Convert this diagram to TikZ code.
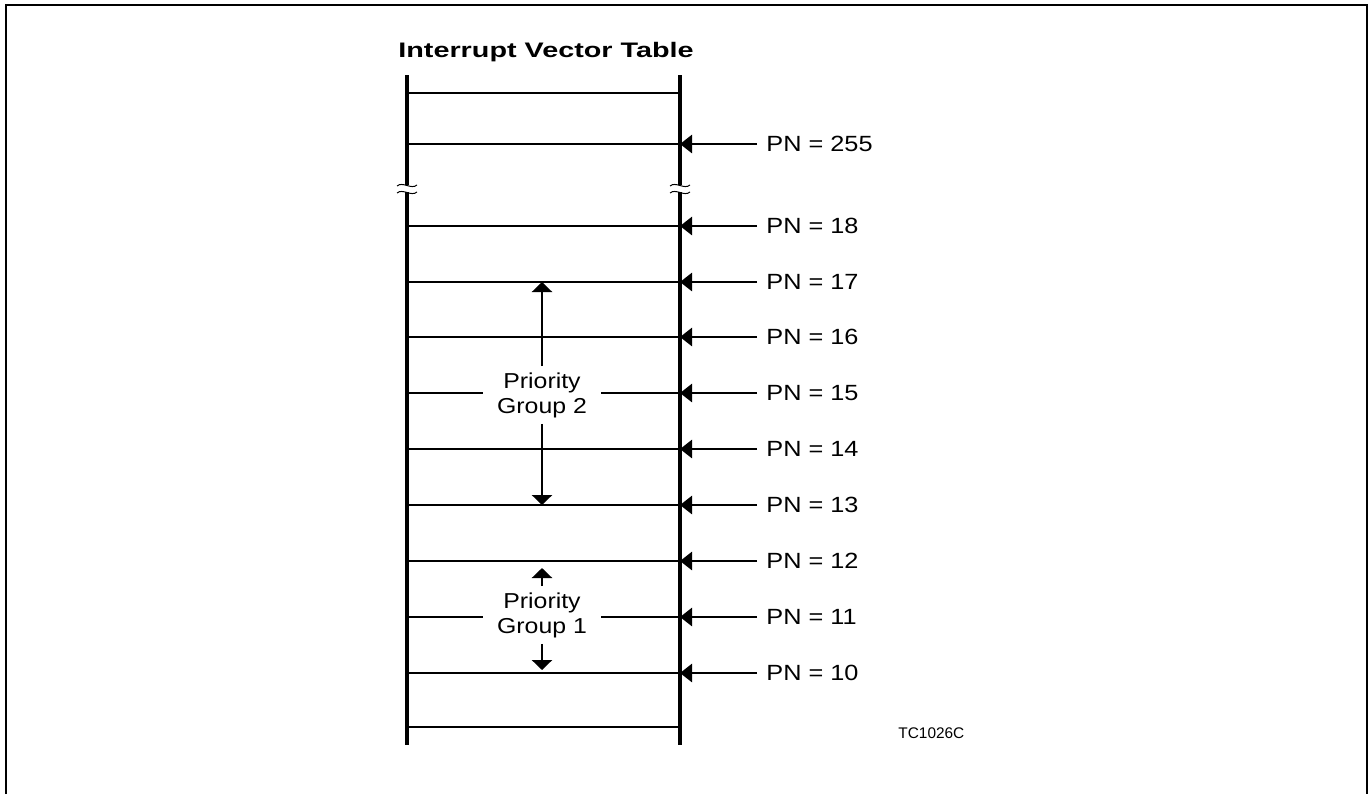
\documentclass[tikz,border=0pt]{standalone}
\usepackage{fontspec}
\setmainfont{Liberation Sans}
\newfontfamily\labelfont[FakeStretch=1.15]{Liberation Sans}
\newfontfamily\titlefont[FakeStretch=1.37]{Liberation Sans}
\usetikzlibrary{arrows.meta, positioning}

\begin{document}
\begin{tikzpicture}[x=0.5pt, y=-0.5pt,
		row/.style={line width=1.4pt},
		rail/.style={line width=1.6pt},
		breakmark/.style={line width=0.5pt},
		pnarrow/.style={line width=1.4pt, -{Triangle[length=6pt, width=9pt]}},
		grouparrow/.style={line width=1.4pt, -{Triangle[length=5pt, width=10pt]}},
		pnlabel/.style={inner xsep=4.5pt, inner ysep=0pt, font=\labelfont\fontsize{11}{13}\selectfont},
		grouplabel/.style={fill=white, align=center, inner xsep=7pt, inner ysep=3pt, font=\labelfont\fontsize{10.8}{12.5}\selectfont}]
	\useasboundingbox (0,0) rectangle (1370,794);
	\draw[line width=0.7pt] (6,794) -- (6,5) -- (1367,5) -- (1367,794);
	\node[anchor=base west, inner sep=0pt, font=\titlefont\bfseries\fontsize{10.5}{12}\selectfont] (title) at (398,57) {Interrupt Vector Table};
	\coordinate (ltop) at (407,75);
	\coordinate (lbot) at (407,745);
	\coordinate (rtop) at (680,75);
	\coordinate (rbot) at (680,745);
	\draw[rail] (ltop) -- (lbot);
	\draw[rail] (rtop) -- (rbot);
	\foreach \y [count=\i] in {93,144,226,282,337,393,449,505,561,617,673,727} {
		\coordinate (a\i) at (407,\y);
		\coordinate (b\i) at (680,\y);
		\draw[row] (a\i) -- (b\i);
	}
	\foreach \x in {407,680} {
		\fill[white] (\x-10,185) rectangle (\x+10,192);
		\draw[breakmark] (\x-10,186) .. controls (\x-4,181) and (\x+4,190) .. (\x+10,185);
		\draw[breakmark] (\x-10,193) .. controls (\x-4,188) and (\x+4,197) .. (\x+10,192);
	}
	\foreach \r/\n in {2/255, 3/18, 4/17, 5/16, 6/15, 7/14, 8/13, 9/12, 10/11, 11/10} {
		\node[pnlabel, right=38.5pt of b\r] (pn\n) {PN = \n};
		\draw[pnarrow] (pn\n) -- (b\r);
	}
	\node[grouplabel] (group2) at (542,395) {Priority\\Group 2};
	\node[grouplabel] (group1) at (542,615) {Priority\\Group 1};
	\draw[grouparrow] (group2) -- (group2 |- b4);
	\draw[grouparrow] (group2) -- (group2 |- b8);
	\draw[grouparrow, shorten >=3.5pt] (group1) -- (group1 |- b9);
	\draw[grouparrow, shorten >=1.5pt] (group1) -- (group1 |- b11);
	\node[anchor=base west, inner sep=0pt, font=\fontsize{7.7}{9}\selectfont] (figid) at (898,738) {TC1026C};
\end{tikzpicture}
\end{document}
